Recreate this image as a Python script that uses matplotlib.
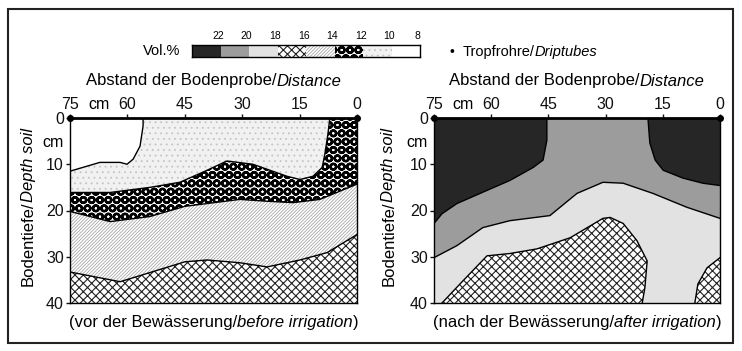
import matplotlib
matplotlib.use('Agg')
import matplotlib.pyplot as plt
import numpy as np
from matplotlib.patches import Rectangle

plt.rcParams['font.family'] = ['Liberation Sans', 'DejaVu Sans']

# ---------------- data (x = distance in cm, d = depth in cm) ----------------
x_ticks = [75, 60, 45, 30, 15, 0]
y_ticks = [0, 10, 20, 30, 40]
tube_x = [75, 0]
legend_labels = ['22', '20', '18', '16', '14', '12', '10', '8']

# before irrigation: boundaries
b_white_x = [75, 67.2, 61.9, 60.1, 58.5, 56.7, 55.9, 55.9]
b_white_d = [11.5, 9.6, 9.6, 10.0, 8.9, 6.1, 1.7, 0]
b_dots_top_x = [75, 64.5, 54.1, 46.3, 39.7, 34.0, 27.2, 18.3, 14.9, 11.5, 9.1, 8.4, 7.6, 7.1]
b_dots_top_d = [16.1, 16.1, 15.0, 13.9, 11.5, 9.3, 10.0, 12.6, 13.3, 12.6, 10.7, 7.8, 3.5, 0]
b_diag_top_x = [75, 64.5, 54.1, 45.0, 30.6, 23.5, 16.7, 9.7, 0]
b_diag_top_d = [20.2, 22.4, 21.3, 19.1, 17.6, 18.0, 18.3, 17.6, 14.3]
b_cross_top_x = [75, 61.9, 45.0, 39.2, 30.6, 23.5, 14.9, 7.8, 0]
b_cross_top_d = [33.3, 35.4, 31.1, 30.7, 31.3, 32.2, 30.7, 29.1, 25.2]

# after irrigation: boundaries
a_black_l_x = [45.4, 45.4, 46.4, 49.0, 55.1, 62.9, 69.0, 72.9, 75]
a_black_l_d = [0, 4.8, 9.1, 10.7, 13.5, 16.3, 18.5, 20.7, 22.8]
a_black_r_x = [18.9, 18.4, 17.0, 14.9, 9.7, 4.5, 0]
a_black_r_d = [0, 5.4, 9.1, 11.3, 13.0, 14.1, 14.6]
a_gray_x = [75, 69.0, 62.2, 55.1, 44.6, 37.5, 30.7, 25.4, 17.6, 8.7, 0]
a_gray_d = [30.2, 27.6, 23.7, 22.2, 21.1, 16.3, 13.9, 14.1, 16.3, 19.3, 21.7]
a_cross1_x = [72.9, 68.2, 61.1, 55.1, 48.0, 39.3, 30.7, 28.8, 25.4, 21.8, 19.1, 19.7, 20.4]
a_cross1_d = [40, 35.9, 29.8, 29.3, 28.3, 25.9, 21.7, 21.5, 22.8, 26.5, 30.9, 36.7, 40]
a_cross2_x = [0, 3.4, 5.8, 6.6]
a_cross2_d = [30.2, 32.4, 35.9, 40]

# ---------------- styles ----------------
STY = [
    dict(fc='#262626', hatch=None, hc='#262626', hlw=1.0),   # >22
    dict(fc='#9c9c9c', hatch=None, hc='#9c9c9c', hlw=1.0),   # 20-22
    dict(fc='#e2e2e2', hatch=None, hc='#e2e2e2', hlw=1.0),   # 18-20
    dict(fc='white', hatch='xxxx', hc='#222222', hlw=0.8),    # 16-18
    dict(fc='white', hatch='//////////', hc='#9a9a9a', hlw=0.5),  # 14-16
    dict(fc='white', hatch='OO', hc='#000000', hlw=1.7),      # 12-14
    dict(fc='#f1f1f1', hatch='...', hc='#c4c4c4', hlw=0.6),   # 10-12
    dict(fc='white', hatch=None, hc='white', hlw=1.0),        # 8-10
]

W, H = 742, 351
fig = plt.figure(figsize=(W / 100, H / 100), dpi=100)


def fx(px):
    return px / W


def fy(py):
    return 1 - py / H


def styled(p, s):
    p.set_facecolor(s['fc'])
    p.set_edgecolor(s['hc'])
    p.set_linewidth(0)
    if s['hatch']:
        p.set_hatch(s['hatch'])
        try:
            p.set_hatch_linewidth(s['hlw'])
        except AttributeError:
            pass


def fill(ax, xs, ds, cls):
    plt.rcParams['hatch.linewidth'] = STY[cls]['hlw']
    for p in ax.fill(xs, ds):
        styled(p, STY[cls])


def setup(ax):
    ax.set_xlim(75, 0)
    ax.set_ylim(40, 0)
    ax.xaxis.tick_top()
    ax.set_xticks(x_ticks)
    ax.set_yticks(y_ticks)
    ax.tick_params(direction='out', length=3, width=1, labelsize=11.5, pad=1.5, colors='#111111')
    for s in ax.spines.values():
        s.set_linewidth(1.0)
    ax.spines['top'].set_linewidth(2.0)
    ax.annotate('cm', xy=(67.5, 1.0), xycoords=('data', 'axes fraction'),
                xytext=(0, 4.5), textcoords='offset points', ha='center', va='bottom', fontsize=11.5)
    ax.annotate('cm', xy=(0, 5.2), xycoords=('axes fraction', 'data'),
                xytext=(-4.5, 0), textcoords='offset points', ha='right', va='center', fontsize=11.5)
    ax.plot(tube_x, [0, 0], 'o', color='black', ms=4, clip_on=False, zorder=10)


axL = fig.add_axes([fx(70), fy(303), fx(357) - fx(70), fy(118) - fy(303)])
axR = fig.add_axes([fx(434), fy(303), fx(720) - fx(434), fy(118) - fy(303)])

# ---- before irrigation ----
fill(axL, [75, 0, 0, 75], [0, 0, 40, 40], 6)
fill(axL, b_white_x + [75], b_white_d + [0], 7)
fill(axL, b_dots_top_x + [0, 0, 75], b_dots_top_d + [0, 40, 40], 5)
fill(axL, b_diag_top_x + [0, 75], b_diag_top_d + [40, 40], 4)
fill(axL, b_cross_top_x + [0, 75], b_cross_top_d + [40, 40], 3)
for xs, ds in [(b_white_x, b_white_d), (b_dots_top_x, b_dots_top_d),
               (b_diag_top_x, b_diag_top_d), (b_cross_top_x, b_cross_top_d)]:
    axL.plot(xs, ds, color='black', lw=1.0)
setup(axL)

# ---- after irrigation ----
fill(axR, [75, 0, 0, 75], [0, 0, 40, 40], 2)
fill(axR, [75, 0] + a_gray_x[::-1], [0, 0] + a_gray_d[::-1], 1)
fill(axR, a_black_l_x + [75], a_black_l_d + [0], 0)
fill(axR, a_black_r_x + [0], a_black_r_d + [0], 0)
fill(axR, a_cross1_x, a_cross1_d, 3)
fill(axR, a_cross2_x + [0], a_cross2_d + [40], 3)
for xs, ds in [(a_black_l_x, a_black_l_d), (a_black_r_x, a_black_r_d), (a_gray_x, a_gray_d),
               (a_cross1_x, a_cross1_d), (a_cross2_x, a_cross2_d)]:
    axR.plot(xs, ds, color='black', lw=1.0)
setup(axR)

# ---- legend bar ----
axLeg = fig.add_axes([fx(192), fy(57), fx(420) - fx(192), fy(45) - fy(57)])
for i in range(len(legend_labels)):
    plt.rcParams['hatch.linewidth'] = STY[i]['hlw']
    b = axLeg.bar(i, 1, width=1, align='edge')[0]
    styled(b, STY[i])
axLeg.set_xlim(0, len(legend_labels))
axLeg.set_ylim(0, 1)
axLeg.xaxis.tick_top()
axLeg.set_xticks(np.arange(1, len(legend_labels) + 1) - 0.08)
axLeg.set_xticklabels(legend_labels, fontsize=7.5)
axLeg.tick_params(length=0, pad=3)
axLeg.set_yticks([])
for s in axLeg.spines.values():
    s.set_linewidth(1.0)
fig.text(fx(162), fy(51), 'Vol.%', fontsize=10.5, ha='center', va='center')

renderer = fig.canvas.get_renderer()


def rich(x, y, parts, size, ha='center', rotation=0):
    texts = []
    for s, st in parts:
        t = fig.text(0, 0, s, fontsize=size, style=st, ha='left', va='center',
                     rotation=rotation, rotation_mode='anchor')
        texts.append(t)
    ext = [t.get_window_extent(renderer) for t in texts]
    lens = [e.width if rotation == 0 else e.height for e in ext]
    total = sum(lens)
    if rotation == 0:
        px = x * W - (total / 2 if ha == 'center' else 0)
        for t, l in zip(texts, lens):
            t.set_position((px / W, y))
            px += l
    else:
        py = y * H - total / 2
        for t, l in zip(texts, lens):
            t.set_position((x, py / H))
            py += l


fig.text(fx(452), fy(52), '\u2022', fontsize=10, ha='center', va='center')
rich(fx(463), fy(52), [('Tropfrohre/', 'normal'), ('Driptubes', 'italic')], 10.5, ha='left')

for cx, cyl in [(213.5, 28), (577, 389)]:
    rich(fx(cx), fy(81), [('Abstand der Bodenprobe/', 'normal'), ('Distance', 'italic')], 12)
    rich(fx(cyl), fy(207), [('Bodentiefe/', 'normal'), ('Depth soil', 'italic')], 12, rotation=90)
rich(fx(213.5), fy(323), [('(vor der Bewässerung/', 'normal'), ('before irrigation', 'italic'), (')', 'normal')], 12)
rich(fx(577), fy(323), [('(nach der Bewässerung/', 'normal'), ('after irrigation', 'italic'), (')', 'normal')], 12)

# outer frame
fig.add_artist(Rectangle((fx(8), fy(343)), fx(733) - fx(8), fy(9) - fy(343),
                         transform=fig.transFigure, fill=False, lw=1.5, ec='#222222'))

fig.savefig('out.png', dpi=100)
